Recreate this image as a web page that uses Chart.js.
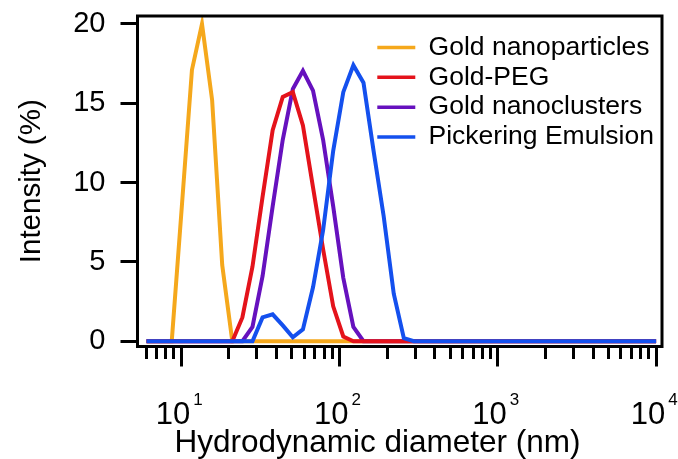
<!DOCTYPE html>
<html lang="en">
<head>
    <meta charset="UTF-8">
    <title>DLS size distribution</title>
    <script src="https://cdn.jsdelivr.net/npm/chart.js"></script>
    <style>
        html, body { margin: 0; padding: 0; background: #fff; }
        #wrap { width: 678px; height: 459px; position: relative; }
    </style>
</head>
<body>
    <div id="wrap"><canvas id="dlsChart"></canvas></div>

    <script>
        // hydrodynamic diameter bins (nm)
        const sizes = [5.615, 6.503, 7.531, 8.721, 10.10, 11.70, 13.54, 15.69, 18.17, 21.04,
            24.36, 28.21, 32.67, 37.84, 43.82, 50.75, 58.77, 68.06, 78.82, 91.28,
            105.7, 122.4, 141.8, 164.2, 190.1, 220.2, 255.0, 295.3, 342.0, 396.1,
            458.7, 531.2, 615.1, 712.4, 825.0, 955.4, 1106, 1281, 1484, 1718,
            1990, 2305, 2669, 3091, 3580, 4145, 4801, 5560, 6439, 7456, 8635, 10000];

        // intensity (%)
        const goldNP = [0, 0, 0, 0, 8.5, 17.1, 20.0, 15.2, 4.8, 0,
            0, 0, 0, 0, 0, 0, 0, 0, 0, 0,
            0, 0, 0, 0, 0, 0, 0, 0, 0, 0,
            0, 0, 0, 0, 0, 0, 0, 0, 0, 0,
            0, 0, 0, 0, 0, 0, 0, 0, 0, 0, 0, 0];
        const goldPEG = [0, 0, 0, 0, 0, 0, 0, 0, 0, 0,
            1.5, 4.7, 9.1, 13.3, 15.4, 15.7, 13.6, 9.7, 5.8, 2.2,
            0.3, 0, 0, 0, 0, 0, 0, 0, 0, 0,
            0, 0, 0, 0, 0, 0, 0, 0, 0, 0,
            0, 0, 0, 0, 0, 0, 0, 0, 0, 0, 0, 0];
        const goldNC = [0, 0, 0, 0, 0, 0, 0, 0, 0, 0,
            0, 0.9, 4.1, 8.5, 12.7, 15.9, 17.05, 15.8, 12.7, 8.5,
            4.0, 0.9, 0, 0, 0, 0, 0, 0, 0, 0,
            0, 0, 0, 0, 0, 0, 0, 0, 0, 0,
            0, 0, 0, 0, 0, 0, 0, 0, 0, 0, 0, 0];
        const pickering = [0, 0, 0, 0, 0, 0, 0, 0, 0, 0,
            0, 0, 1.5, 1.7, 1.0, 0.25, 0.75, 3.4, 7.0, 12.0,
            15.7, 17.4, 16.3, 12.0, 7.9, 3.0, 0.2, 0, 0, 0,
            0, 0, 0, 0, 0, 0, 0, 0, 0, 0,
            0, 0, 0, 0, 0, 0, 0, 0, 0, 0, 0, 0];

        const seriesNames = ['Gold nanoparticles', 'Gold-PEG', 'Gold nanoclusters', 'Pickering Emulsion'];
        const seriesColors = ['#F5A81C', '#E4131B', '#6611BE', '#1450EE'];
        const yTicks = [0, 5, 10, 15, 20];
        const xTickExponents = [1, 2, 3, 4];
        const xTitle = 'Hydrodynamic diameter (nm)';
        const yTitle = 'Intensity (%)';

        const FONT = "'Liberation Sans', Arial, sans-serif";
        const X_MIN = 5.30, X_MAX = 10893;

        function pts(values) {
            return sizes.map((s, i) => ({ x: s, y: values[i] }));
        }

        // minor + major log ticks, 1..9 x 10^n
        const xTickValues = [];
        for (let e = 0; e <= 4; e++) {
            for (let m = 1; m <= 9; m++) {
                const v = m * Math.pow(10, e);
                if (v >= X_MIN && v <= X_MAX) xTickValues.push(v);
            }
        }
        const isMajor = v => Math.abs(Math.log10(v) - Math.round(Math.log10(v))) < 1e-9;

        // box around the plot
        const frame = {
            id: 'frame',
            afterDraw(chart) {
                const { ctx, chartArea: a } = chart;
                ctx.save();
                ctx.strokeStyle = '#000';
                ctx.lineWidth = 3;
                ctx.strokeRect(a.left, a.top, a.right - a.left, a.bottom - a.top);
                ctx.restore();
            }
        };

        // 10^n labels and x title
        const xLabels = {
            id: 'xLabels',
            afterDraw(chart) {
                const { ctx, chartArea: a } = chart;
                const x = chart.scales.x;
                ctx.save();
                ctx.fillStyle = '#000';
                ctx.textBaseline = 'alphabetic';
                ctx.textAlign = 'left';
                xTickExponents.forEach(e => {
                    const px = x.getPixelForValue(Math.pow(10, e));
                    ctx.font = '31px ' + FONT;
                    const w1 = ctx.measureText('10').width;
                    ctx.font = '17px ' + FONT;
                    const w2 = ctx.measureText(String(e)).width;
                    const left = px - (w1 + 3 + w2) / 2 - 2;
                    ctx.font = '31px ' + FONT;
                    ctx.fillText('10', left, a.bottom + 77);
                    ctx.font = '17px ' + FONT;
                    ctx.fillText(String(e), left + w1 + 3, a.bottom + 58);
                });
                ctx.font = '31.5px ' + FONT;
                ctx.textAlign = 'center';
                ctx.fillText(xTitle, a.left + 240, a.bottom + 105);
                ctx.restore();
            }
        };

        // put the legend in the upper right of the plot
        const legendPlace = {
            id: 'legendPlace',
            afterLayout(chart) {
                const lg = chart.legend;
                lg.left = 374;
                lg.top = 31;
                lg.right = lg.left + lg.width;
                lg.bottom = lg.top + lg.height;
            }
        };

        const datasets = [goldNP, goldPEG, goldNC, pickering].map((vals, i) => ({
            label: seriesNames[i],
            data: pts(vals),
            borderColor: seriesColors[i],
            backgroundColor: seriesColors[i],
            borderWidth: 4,
            pointRadius: 0,
            tension: 0,
            fill: false,
            clip: { left: -9, top: 0, right: 0, bottom: 0 },
            order: [3, 1, 2, 0][i]
        }));

        new Chart(document.getElementById('dlsChart'), {
            type: 'line',
            data: { datasets },
            options: {
                responsive: true,
                maintainAspectRatio: false,
                animation: false,
                layout: { padding: { top: 16, right: 16, left: 0, bottom: 0 } },
                plugins: {
                    tooltip: { enabled: false },
                    legend: {
                        position: 'chartArea',
                        align: 'start',
                        labels: {
                            color: '#000',
                            font: { family: FONT, size: 26.5 },
                            boxWidth: 38,
                            boxHeight: 3.5,
                            padding: 3.3,
                            sort: (a, b) => a.datasetIndex - b.datasetIndex,
                            generateLabels(chart) {
                                return Chart.defaults.plugins.legend.labels.generateLabels(chart)
                                    .map(l => Object.assign(l, { fillStyle: l.strokeStyle, lineWidth: 0 }));
                            }
                        }
                    }
                },
                scales: {
                    x: {
                        type: 'logarithmic',
                        position: 'bottom',
                        min: X_MIN,
                        max: X_MAX,
                        border: { display: false },
                        grid: {
                            drawOnChartArea: false,
                            drawTicks: true,
                            tickLength: 20,
                            lineWidth: 3,
                            color: '#000',
                            tickBorderDash: c => (c.tick && isMajor(c.tick.value)) ? [] : [12, 40]
                        },
                        ticks: { display: false },
                        afterBuildTicks: s => { s.ticks = xTickValues.map(v => ({ value: v, major: isMajor(v) })); },
                        afterFit: s => {
                            s.height = 112.5;
                            s.paddingLeft = 0; s.paddingRight = 0;
                        }
                    },
                    y: {
                        type: 'linear',
                        min: -0.33,
                        max: 20.5,
                        border: { display: false },
                        grid: {
                            drawOnChartArea: false,
                            drawTicks: true,
                            tickLength: 17,
                            lineWidth: 3,
                            color: '#000'
                        },
                        ticks: {
                            color: '#000',
                            padding: 15,
                            font: { family: FONT, size: 29 }
                        },
                        title: {
                            display: true,
                            text: yTitle,
                            color: '#000',
                            font: { family: FONT, size: 29.5 },
                            padding: { top: 14, bottom: 0 }
                        },
                        afterBuildTicks: s => { s.ticks = yTicks.map(v => ({ value: v })); },
                        afterFit: s => {
                            s.width = 137.5;
                            s.paddingTop = 0; s.paddingBottom = 0;
                        }
                    }
                }
            },
            plugins: [frame, xLabels, legendPlace]
        });
    </script>
</body>
</html>
